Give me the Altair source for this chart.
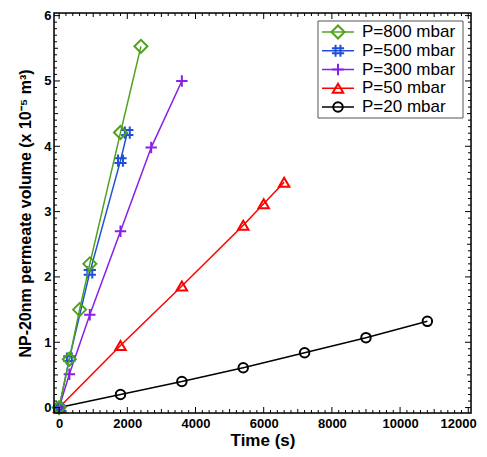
import altair as alt
import pandas as pd
import numpy as np

# ---- data ----
series_names = ["P=800 mbar", "P=500 mbar", "P=300 mbar", "P=50 mbar", "P=20 mbar"]
series_colors = ["#4ea31b", "#1f4fd8", "#8a1fe8", "#ff0000", "#000000"]

t_800 = [0, 300, 600, 900, 1800, 2400]
v_800 = [0, 0.74, 1.50, 2.20, 4.21, 5.53]
t_500 = [0, 300, 900, 1800, 2000]
v_500 = [0, 0.75, 2.07, 3.78, 4.21]
t_300 = [0, 300, 900, 1800, 2700, 3600]
v_300 = [0, 0.51, 1.42, 2.70, 3.98, 5.00]
t_50 = [0, 1800, 3600, 5400, 6000, 6600]
v_50 = [0, 0.95, 1.86, 2.79, 3.12, 3.45]
t_20 = [0, 1800, 3600, 5400, 7200, 9000, 10800]
v_20 = [0, 0.20, 0.40, 0.61, 0.84, 1.07, 1.32]

x_major = [0, 2000, 4000, 6000, 8000, 10000, 12000]
y_major = [0, 1, 2, 3, 4, 5, 6]

# ---- layout ----
W, H = 417, 400
X_DOM = [-150, 12080]
Y_DOM = [-0.083, 6.04]
FONT = "Liberation Sans"

shape_paths = {
    "P=800 mbar": "diamond",
    "P=500 mbar": "M-0.4,-1V1M0.4,-1V1M-1,-0.4H1M-1,0.4H1",
    "P=300 mbar": "M-1,0H1M0,-1V1",
    "P=50 mbar": "triangle-up",
    "P=20 mbar": "circle",
}
shape_sizes = {"P=800 mbar": 170, "P=500 mbar": 90, "P=300 mbar": 150,
               "P=50 mbar": 150, "P=20 mbar": 95}

rows = []
for name, ts, vs in [(series_names[4], t_20, v_20), (series_names[3], t_50, v_50),
                     (series_names[2], t_300, v_300), (series_names[1], t_500, v_500),
                     (series_names[0], t_800, v_800)]:
    for i, (t, v) in enumerate(zip(ts, vs)):
        rows.append({"series": name, "t": t, "v": v, "i": i})
df = pd.DataFrame(rows)

xs = alt.Scale(domain=X_DOM, nice=False, zero=False)
ys = alt.Scale(domain=Y_DOM, nice=False, zero=False)
color_scale = alt.Scale(domain=series_names, range=series_colors)
shape_scale = alt.Scale(domain=series_names, range=[shape_paths[n] for n in series_names])
size_scale = alt.Scale(domain=series_names, range=[shape_sizes[n] for n in series_names])

x_axis = alt.Axis(values=x_major, format="d", labelFont=FONT, labelFontSize=13,
                  labelFontWeight="bold", labelColor="black", ticks=False,
                  domain=False, grid=False, labelPadding=4, title="Time (s)",
                  titleFont=FONT, titleFontSize=17, titleFontWeight="bold",
                  titleColor="black", titlePadding=2, labelFlush=4,
                  labelFlushOffset=8)
y_axis = alt.Axis(values=y_major, format="d", labelFont=FONT, labelFontSize=13,
                  labelFontWeight="bold", labelColor="black", ticks=False,
                  domain=False, grid=False, labelPadding=3,
                  title="NP-20nm permeate volume (x 10\u207b\u2075 m\u00b3)",
                  titleFont=FONT, titleFontSize=16, titleFontWeight="bold",
                  titleColor="black", titlePadding=10, labelFlush=False)

base = alt.Chart(df)
lines = []
for name in reversed(series_names):
    sub = base.transform_filter(alt.datum.series == name)
    lines.append(sub.mark_line(strokeWidth=1.5).encode(
        x=alt.X("t:Q", scale=xs, axis=x_axis),
        y=alt.Y("v:Q", scale=ys, axis=y_axis),
        color=alt.Color("series:N", scale=color_scale, legend=None),
        order="i:Q"))
    lines.append(sub.mark_point(filled=False, strokeWidth=2, opacity=1).encode(
        x=alt.X("t:Q", scale=xs),
        y=alt.Y("v:Q", scale=ys),
        color=alt.Color("series:N", scale=color_scale, legend=None),
        shape=alt.Shape("series:N", scale=shape_scale, legend=None),
        size=alt.Size("series:N", scale=size_scale, legend=None)))

# ---- frame and inward ticks ----
x_minor = [v for v in np.arange(0, 12001, 200) if v % 1000 != 0]
x_mid = [v for v in np.arange(1000, 12000, 2000)]
y_minor = [round(v, 1) for v in np.arange(0, 6.01, 0.1) if abs(v * 2 - round(v * 2)) > 1e-6]
y_mid = [0.5, 1.5, 2.5, 3.5, 4.5, 5.5]

def xticks(vals, length):
    d = pd.DataFrame({"t": vals})
    b = alt.Chart(d).mark_rule(color="black", strokeWidth=1).encode(
        x=alt.X("t:Q", scale=xs))
    return [b.encode(y=alt.value(H), y2=alt.value(H - length)),
            b.encode(y=alt.value(0), y2=alt.value(length))]

def yticks(vals, length):
    d = pd.DataFrame({"v": vals})
    b = alt.Chart(d).mark_rule(color="black", strokeWidth=1).encode(
        y=alt.Y("v:Q", scale=ys))
    return [b.encode(x=alt.value(0), x2=alt.value(length)),
            b.encode(x=alt.value(W), x2=alt.value(W - length))]

ticks = []
ticks += xticks(x_major, 6) + xticks(x_mid, 4) + xticks(x_minor, 3)
ticks += yticks(y_major, 6) + yticks(y_mid, 4) + yticks(y_minor, 3)

frame = alt.Chart(pd.DataFrame({"a": [0]})).mark_rect(
    fill=None, stroke="black", strokeWidth=1.5).encode(
    x=alt.value(0), x2=alt.value(W), y=alt.value(0), y2=alt.value(H))

# ---- legend ----
leg = pd.DataFrame({"series": series_names})
leg_y = alt.Y("series:N", scale=alt.Scale(type="point", domain=series_names,
                                          range=[19, 94], padding=0), axis=None)
legend_box = alt.Chart(pd.DataFrame({"a": [0]})).mark_rect(
    fill="white", stroke="#555555", strokeWidth=1).encode(
    x=alt.value(264), x2=alt.value(409), y=alt.value(8), y2=alt.value(105))
leg_lines = alt.Chart(leg).mark_rule(strokeWidth=1.5).encode(
    x=alt.value(268), x2=alt.value(300), y=leg_y,
    color=alt.Color("series:N", scale=color_scale, legend=None))
leg_pts = alt.Chart(leg).mark_point(filled=False, strokeWidth=2, opacity=1).encode(
    x=alt.value(284), y=leg_y,
    color=alt.Color("series:N", scale=color_scale, legend=None),
    shape=alt.Shape("series:N", scale=shape_scale, legend=None),
    size=alt.Size("series:N", scale=size_scale, legend=None))
leg_text = alt.Chart(leg).mark_text(align="left", baseline="middle", font=FONT,
                                    fontSize=17, color="black").encode(
    x=alt.value(308), y=leg_y, text="series:N")
legend_layer = alt.layer(legend_box, leg_lines, leg_pts, leg_text)

chart = alt.layer(*lines, *ticks, frame).properties(width=W, height=H)
chart = alt.layer(chart, legend_layer).resolve_scale(y="independent").properties(
    width=W, height=H, autosize=alt.AutoSizeParams(type="none"),
    padding={"left": 46, "top": 5, "right": 8, "bottom": 36}
).configure_view(stroke=None).configure(background="white")

chart.save("out.html", embed_options={"renderer": "svg", "actions": False})
